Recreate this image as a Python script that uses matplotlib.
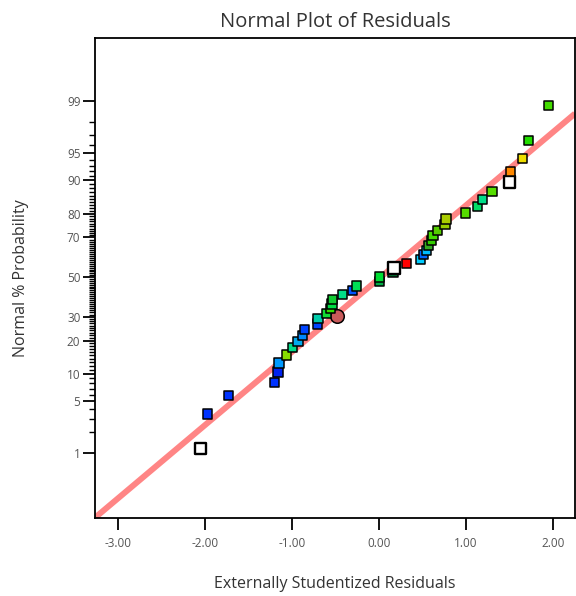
import matplotlib
matplotlib.use("Agg")
import matplotlib.pyplot as plt
import numpy as np
from statistics import NormalDist

# Externally studentized residuals, in ascending order
residuals = [-2.05, -1.97, -1.73, -1.20, -1.16, -1.15, -1.06, -0.99, -0.93, -0.88,
             -0.86, -0.71, -0.70, -0.60, -0.56, -0.54, -0.53, -0.42, -0.30, -0.26,
             0.01, 0.01, 0.16, 0.17, 0.32, 0.48, 0.51, 0.55, 0.57, 0.60,
             0.62, 0.67, 0.76, 0.77, 0.99, 1.13, 1.19, 1.30, 1.50, 1.51,
             1.65, 1.72, 1.95]
# Fill colour of each run's marker
point_colors = ["white", "#0033FF", "#0033FF", "#0033FF", "#0022EE", "#0099FF", "#88DD00",
                "#00DD88", "#00AAEE", "#0088FF", "#0044FF", "#0044FF", "#00CCAA", "#11DD33",
                "#33DD00", "#00DD44", "#11CC33", "#00DD88", "#0055FF", "#00DD55", "#00AA44",
                "#00DD33", "#007733", "white", "#FF0000", "#00CCFF", "#0066FF", "#00BBFF",
                "#33AA22", "#33CC00", "#44DD00", "#55CC00", "#99CC00", "#AACC00", "#55DD00",
                "#00DD66", "#00DD88", "#55DD00", "white", "#FF8800", "#EEDD00", "#22DD00",
                "#44DD00"]
# Highlighted run (drawn as a circle)
circle_resid = -0.48
circle_pct = 30.3

# Reference line: z = intercept + slope * residual
line_intercept = -0.02
line_slope = 0.97

major_pct = [1, 5, 10, 20, 30, 50, 70, 80, 90, 95, 99]
minor_pct = [p for p in range(2, 99) if p not in major_pct]
x_ticks = [-3.0, -2.0, -1.0, 0.0, 1.0, 2.0]

plt.rcParams["font.family"] = ["Open Sans", "DejaVu Sans"]
plt.rcParams["axes.unicode_minus"] = False

nd = NormalDist()
n = len(residuals)
order = np.argsort(residuals, kind="stable")
z = np.empty(n)
z[order] = [nd.inv_cdf((i + 0.5) / n) for i in range(n)]
res = np.array(residuals)

fig = plt.figure(figsize=(5.76, 5.96), dpi=100)
ax = fig.add_axes([95 / 576, 1 - 518 / 596, (575 - 95) / 576, (518 - 38) / 596])

xlim = (-3.264, 2.253)
ylim = (-3.19, 3.166)
ax.set_xlim(*xlim)
ax.set_ylim(*ylim)

xx = np.array(xlim)
ax.plot(xx, line_intercept + line_slope * xx, color="#FF7070", alpha=0.85,
        lw=4.3, solid_capstyle="butt", zorder=2)

ax.scatter([circle_resid], [nd.inv_cdf(circle_pct / 100)], s=95, marker="o",
           facecolor="#C85A5A", edgecolor="black", linewidths=1.1, zorder=2.5)

is_white = np.array([c == "white" for c in point_colors])
sizes = np.where(is_white, 70, 44)
widths = np.where(is_white, 1.7, 1.1)
ax.scatter(res, z, s=sizes, marker="s", c=point_colors, edgecolors="black",
           linewidths=widths, zorder=3)

ax.set_xticks(x_ticks)
ax.set_xticklabels([f"{v:.2f}" for v in x_ticks])
ax.set_yticks([nd.inv_cdf(p / 100) for p in major_pct])
ax.set_yticklabels([str(p) for p in major_pct])
ax.set_yticks([nd.inv_cdf(p / 100) for p in minor_pct], minor=True)

ax.tick_params(axis="both", which="major", direction="out", length=8.5, width=1.3,
               colors="black", labelcolor="#555555", labelsize=8.5)
ax.tick_params(axis="x", pad=5)
ax.tick_params(axis="y", pad=2)
ax.tick_params(axis="y", which="minor", direction="out", length=4.5, width=1.0,
               colors="black")

for side in ["left", "bottom", "top", "right"]:
    ax.spines[side].set_linewidth(1.3)
    ax.spines[side].set_color("black")

ax.set_title("Normal Plot of Residuals", fontsize=14.5, color="#333333", pad=8)
ax.set_xlabel("Externally Studentized Residuals", fontsize=11.5, color="#333333",
              labelpad=19)
ax.set_ylabel("Normal % Probability", fontsize=11.5, color="#333333", labelpad=27)

fig.savefig("out.png", dpi=100)
